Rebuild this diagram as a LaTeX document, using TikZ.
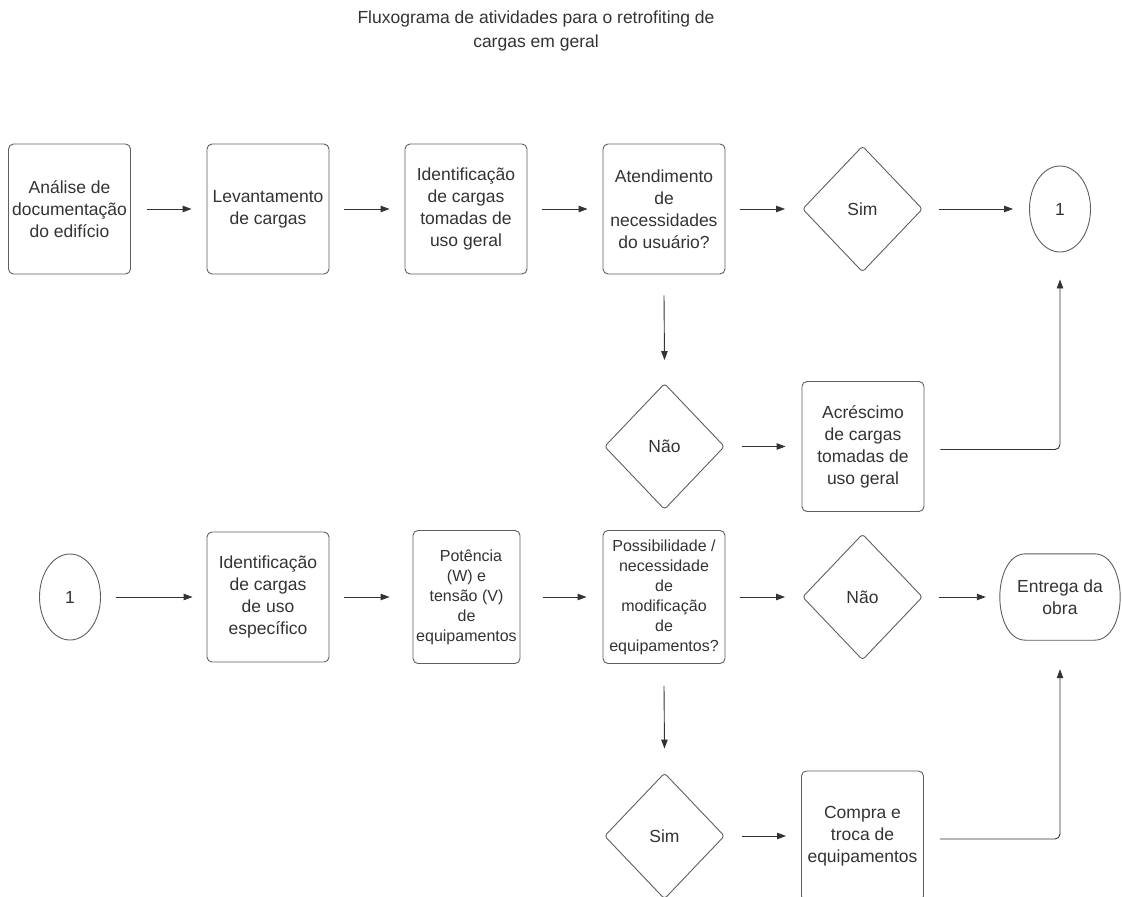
\documentclass[tikz,border=0pt]{standalone}
\usepackage{fontspec}
\setmainfont{Liberation Sans}
\usetikzlibrary{shapes.geometric,arrows.meta,calc}
\definecolor{txt}{HTML}{333333}
\definecolor{bord}{HTML}{5E5E5E}
\definecolor{arrc}{HTML}{333333}
\begin{document}
\begin{tikzpicture}[x=1pt,y=-1pt,
  every node/.style={text=txt, inner sep=0pt, align=center},
  bigtxt/.style={font=\fontsize{17.5}{22}\selectfont},
  smalltxt/.style={font=\fontsize{16}{20}\selectfont},
  procbox/.style={draw=bord, line width=0.9pt, rounded corners=5pt, minimum width=122pt, minimum height=130pt, bigtxt},
  decision/.style={diamond, draw=bord, line width=0.9pt, rounded corners=3pt, minimum width=120pt, minimum height=126pt, bigtxt},
  connector/.style={ellipse, draw=bord, line width=0.9pt, minimum width=61pt, minimum height=86pt, bigtxt},
  flow/.style={draw=arrc, line width=0.9pt, -{Triangle[length=9pt,width=6.5pt]}},
]
\useasboundingbox (0,0) rectangle (1122,897);
\clip (0,0) rectangle (1122,897);

\node[font=\fontsize{17.5}{24}\selectfont] (title) at (536,31) {Fluxograma de atividades para o retrofiting de\\cargas em geral};

% row 1
\node[procbox] (b1) at (69.5,209) {Análise de\\documentação\\do edifício};
\node[procbox] (b2) at (268,209) {Levantamento\\de cargas};
\node[procbox] (b3) at (466,209) {Identificação\\de cargas\\tomadas de\\uso geral};
\node[procbox] (b4) at (664,209) {Atendimento\\de\\necessidades\\do usuário?};
\node[decision] (d1) at (862.5,209) {Sim};
\node[connector] (c1) at (1060,209) {1};

% row 2
\node[decision] (d2) at (664.5,446.5) {Não};
\node[procbox] (b5) at (863,446.5) {Acréscimo\\de cargas\\tomadas de\\uso geral};

% row 3
\node[connector] (c2) at (70,597) {1};
\node[procbox] (b6) at (268,597) {Identificação\\de cargas\\de uso\\específico};
\node[procbox, minimum width=107pt, minimum height=133pt, smalltxt] (b7) at (466.5,597) {\hspace*{9pt}Potência\\(W) e\\tensão (V)\\de\\equipamentos};
\node[procbox, minimum height=133pt, smalltxt] (b8) at (664,597) {Possibilidade /\\necessidade\\de\\modificação\\de\\equipamentos?};
\node[decision] (d3) at (862.5,597) {Não};
\node[minimum width=120pt, minimum height=86pt, bigtxt] (end) at (1060,597) {Entrega da\\obra};
\draw[draw=bord, line width=0.9pt]
  ($(end.north west)+(26,0)$) -- ($(end.north east)+(-26,0)$)
  .. controls ($(end.north east)+(-8,0)$) and ($(end.east)+(0,-20)$) .. (end.east)
  .. controls ($(end.east)+(0,20)$) and ($(end.south east)+(-8,0)$) .. ($(end.south east)+(-26,0)$)
  -- ($(end.south west)+(26,0)$)
  .. controls ($(end.south west)+(8,0)$) and ($(end.west)+(0,20)$) .. (end.west)
  .. controls ($(end.west)+(0,-20)$) and ($(end.north west)+(8,0)$) .. ($(end.north west)+(26,0)$)
  -- cycle;

% row 4
\node[decision] (d4) at (664.5,836) {Sim};
\node[procbox] (b9) at (862.5,836) {Compra e\\troca de\\equipamentos};

% connectors
\draw[flow] ([xshift=16pt]b1.east) -- ([xshift=-15pt]b2.west);
\draw[flow] ([xshift=15pt]b2.east) -- ([xshift=-15pt]b3.west);
\draw[flow] ([xshift=15pt]b3.east) -- ([xshift=-15pt]b4.west);
\draw[flow] ([xshift=15pt]b4.east) -- ([xshift=-17pt]d1.west);
\draw[flow] ([xshift=16pt]d1.east) -- ([xshift=-16pt]c1.west);
\draw[flow] ([yshift=-21pt]b4.south) -- ([yshift=23pt]d2.north);
\draw[flow] ([xshift=17pt]d2.east) -- ([xshift=-16pt]b5.west);
\draw[flow, rounded corners=5pt] ([xshift=16pt,yshift=-3pt]b5.east) -| ([yshift=-27pt]c1.south);

\draw[flow] ([xshift=15pt]c2.east) -- ([xshift=-14pt]b6.west);
\draw[flow] ([xshift=15pt]b6.east) -- ([xshift=-23pt]b7.west);
\draw[flow] ([xshift=23pt]b7.east) -- ([xshift=-16pt]b8.west);
\draw[flow] ([xshift=15pt]b8.east) -- ([xshift=-17pt]d3.west);
\draw[flow] ([xshift=16pt]d3.east) -- ([xshift=-14pt]end.west);
\draw[flow] ([yshift=-22pt]b8.south) -- ([yshift=24pt]d4.north);
\draw[flow] ([xshift=17pt]d4.east) -- ([xshift=-15pt]b9.west);
\draw[flow, rounded corners=5pt] ([xshift=16pt,yshift=-3pt]b9.east) -| ([yshift=-29pt]end.south);
\end{tikzpicture}
\end{document}
